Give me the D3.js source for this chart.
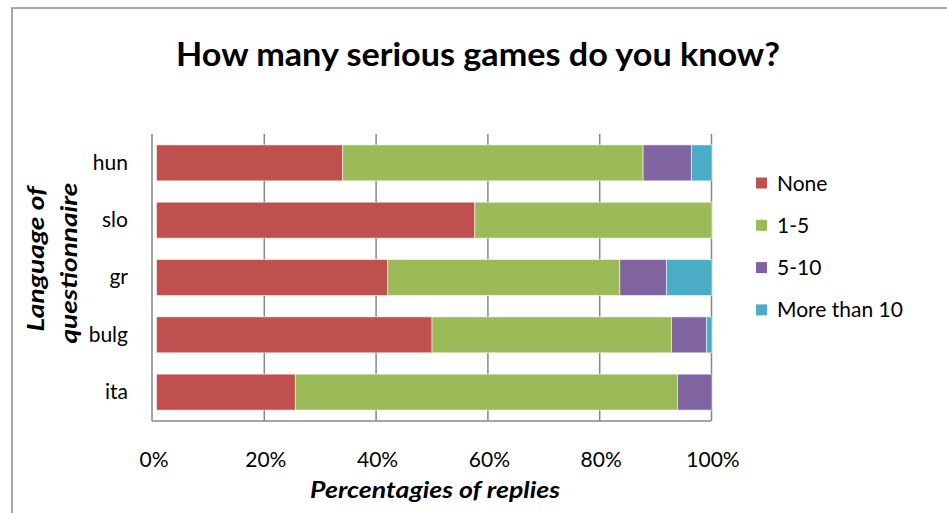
<!DOCTYPE html>
<html>
<head>
<meta charset="utf-8">
<script src="https://cdn.jsdelivr.net/npm/d3@7/dist/d3.min.js"></script>
<style>
  html, body { margin: 0; padding: 0; background: #fff; }
  svg { display: block; font-family: Lato, "Open Sans", sans-serif; }
</style>
</head>
<body>
<svg id="chart" width="947" height="513"></svg>
<script>
// Survey answers per questionnaire language (percent of replies)
const categories = ["hun", "slo", "gr", "bulg", "ita"];
const seriesNames = ["None", "1-5", "5-10", "More than 10"];
const noneValues = [33.5, 57.3, 41.6, 49.6, 25.0];
const oneToFiveValues = [54.1, 42.7, 41.8, 43.1, 68.8];
const fiveToTenValues = [8.7, 0, 8.4, 6.3, 6.2];
const moreThanTenValues = [3.7, 0, 8.2, 1.0, 0];
const tickValues = [0, 20, 40, 60, 80, 100];
const colors = ["#C0504D", "#9BBB59", "#8064A2", "#4BACC6"];

const rows = categories.map((c, i) => ({
  cat: c,
  "None": noneValues[i],
  "1-5": oneToFiveValues[i],
  "5-10": fiveToTenValues[i],
  "More than 10": moreThanTenValues[i]
}));
const stacked = d3.stack().keys(seriesNames)(rows);

const svg = d3.select("#chart");

// outer chart frame
svg.append("rect")
  .attr("x", 12).attr("y", 8).attr("width", 960).attr("height", 540)
  .attr("fill", "none").attr("stroke", "#8a8a8a").attr("stroke-width", 1.5);

const plot = { left: 152, right: 711, top: 134, bottom: 421 };

const x = d3.scaleLinear().domain([0, 100]).range([plot.left, plot.right]);
// bars sit slightly inset from the value axis line
const barX = d3.scaleLinear().domain([0, 100]).range([plot.left + 4.5, plot.right + 1]);
const y = d3.scaleBand().domain(categories)
  .range([plot.top, plot.bottom])
  .paddingInner(0.373).paddingOuter(0.19);

// vertical gridlines
svg.append("g")
  .attr("transform", `translate(0,${plot.bottom})`)
  .call(d3.axisBottom(x).tickValues(tickValues.slice(1)).tickSize(-(plot.bottom - plot.top)).tickFormat(""))
  .call(g => g.select(".domain").remove())
  .call(g => g.selectAll("line").attr("stroke", "#868686").attr("stroke-width", 1.5));

// bars
svg.append("g").selectAll("g")
  .data(stacked)
  .join("g")
  .attr("fill", (d, i) => colors[i])
  .selectAll("rect")
  .data(d => d.filter(s => s[1] - s[0] > 0))
  .join("rect")
  .attr("x", d => barX(d[0]))
  .attr("width", d => barX(d[1]) - barX(d[0]))
  .attr("y", d => y(d.data.cat))
  .attr("height", y.bandwidth())
  .attr("stroke", "#ffffff").attr("stroke-opacity", 0.55).attr("stroke-width", 1);

// axis lines
svg.append("line")
  .attr("x1", plot.left).attr("x2", plot.left)
  .attr("y1", plot.top).attr("y2", plot.bottom)
  .attr("stroke", "#868686").attr("stroke-width", 1.5);
svg.append("line")
  .attr("x1", plot.left).attr("x2", plot.right)
  .attr("y1", plot.bottom).attr("y2", plot.bottom)
  .attr("stroke", "#868686").attr("stroke-width", 1.5);

// x tick labels
svg.append("g")
  .attr("transform", `translate(1.5,${plot.bottom})`)
  .call(d3.axisBottom(x).tickValues(tickValues).tickSize(0).tickPadding(31).tickFormat(d => d + "%"))
  .call(g => g.select(".domain").remove())
  .call(g => g.selectAll("text").attr("font-size", 21).attr("fill", "#000")
    .attr("font-family", "Lato, sans-serif"));

// y category labels
svg.append("g")
  .attr("transform", `translate(${plot.left},0)`)
  .call(d3.axisLeft(y).tickSize(0).tickPadding(24))
  .call(g => g.select(".domain").remove())
  .call(g => g.selectAll("text").attr("font-size", 21).attr("fill", "#000")
    .attr("font-family", "Lato, sans-serif"));

// title
svg.append("text")
  .attr("x", 478).attr("y", 66)
  .attr("text-anchor", "middle")
  .attr("font-size", 32).attr("font-weight", "bold")
  .attr("textLength", 604).attr("lengthAdjust", "spacingAndGlyphs")
  .text("How many serious games do you know?");

// x axis title
svg.append("text")
  .attr("x", 435).attr("y", 498)
  .attr("text-anchor", "middle")
  .attr("font-size", 22).attr("font-weight", "bold").attr("font-style", "italic")
  .attr("textLength", 250).attr("lengthAdjust", "spacingAndGlyphs")
  .text("Percentagies of replies");

// y axis title (two lines, rotated, reading bottom to top)
const yTitle = svg.append("text")
  .attr("transform", "rotate(-90)")
  .attr("text-anchor", "middle")
  .attr("font-size", 22).attr("font-weight", "bold").attr("font-style", "italic");
yTitle.append("tspan")
  .attr("x", -259).attr("y", 44)
  .attr("textLength", 145).attr("lengthAdjust", "spacingAndGlyphs").text("Language of");
yTitle.append("tspan")
  .attr("x", -263).attr("y", 77)
  .attr("textLength", 161).attr("lengthAdjust", "spacingAndGlyphs").text("questionnaire");

// legend
const legend = svg.append("g").selectAll("g")
  .data(seriesNames)
  .join("g")
  .attr("transform", (d, i) => `translate(756,${183 + i * 42.3})`);
legend.append("rect")
  .attr("x", 0).attr("y", -5.5).attr("width", 11).attr("height", 11)
  .attr("fill", (d, i) => colors[i]);
legend.append("text")
  .attr("x", 21).attr("y", 0).attr("dy", "0.36em")
  .attr("font-size", 21).attr("fill", "#000")
  .text(d => d);
</script>
</body>
</html>
